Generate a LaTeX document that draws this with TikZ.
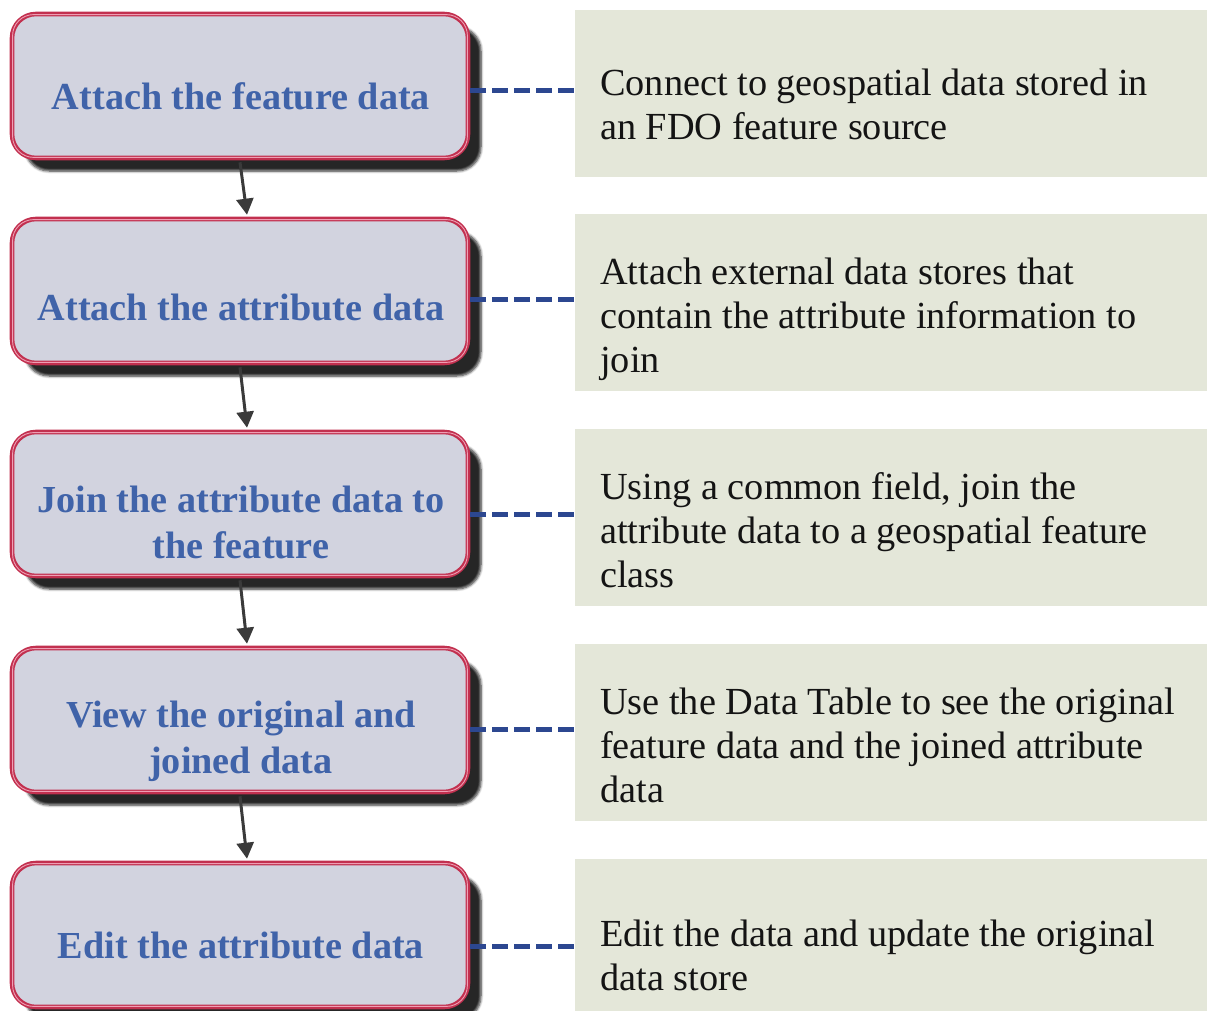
\documentclass[tikz,border=0pt]{standalone}
\usepackage{fontspec}
\setmainfont{Liberation Serif}
\usetikzlibrary{arrows.meta,shadows.blur}

\definecolor{boxfill}{HTML}{D2D3DF}
\definecolor{boxedge}{HTML}{C2304F}
\definecolor{boxhigh}{HTML}{EE9FB4}
\definecolor{stepblue}{HTML}{4063A9}
\definecolor{notefill}{HTML}{E4E7D9}
\definecolor{dashblue}{HTML}{2C4790}
\definecolor{arrowgray}{HTML}{3A3A3A}

\tikzset{
  stepbox/.style={
    rounded corners=24pt, fill=boxfill, draw=boxedge, line width=4.6pt,
    minimum width=456pt, minimum height=144pt, inner sep=0pt,
    blur shadow={shadow xshift=13pt, shadow yshift=-13pt,
      shadow blur radius=2.5pt, shadow blur steps=6, shadow opacity=85}
  },
  steptext/.style={
    text=stepblue, align=center, inner sep=0pt, anchor=base,
    font=\bfseries\fontsize{38.2}{46}\selectfont
  },
  notebox/.style={fill=notefill, minimum width=632pt, inner sep=0pt},
  notetext/.style={
    text=black!92, align=left, inner sep=0pt, anchor=base west,
    font=\fontsize{38.3}{44}\selectfont
  },
  linkline/.style={draw=dashblue, line width=4.5pt, dash pattern=on 16pt off 6pt},
  flowarrow/.style={draw=arrowgray, line width=3pt,
    -{Triangle[width=17pt,length=16pt]}},
  highline/.style={draw=boxhigh, line width=0.9pt, rounded corners=21pt}
}

\begin{document}
\begin{tikzpicture}[x=1pt, y=-1pt]
\useasboundingbox (0,0) rectangle (1207,1010);

% note panels on the right
\node[notebox, minimum height=167pt] (r1) at (891,93.5) {};
\node[notebox, minimum height=177pt] (r2) at (891,302.5) {};
\node[notebox, minimum height=177pt] (r3) at (891,517.5) {};
\node[notebox, minimum height=177pt] (r4) at (891,732.5) {};
\node[notebox, minimum height=181pt] (r5) at (891,949.5) {};

% workflow steps
\foreach \i/\y in {1/86, 2/291, 3/504, 4/720, 5/935} {
  \node[stepbox] (b\i) at (240,\y) {};
  \draw[highline] ([shift={(2.9,2.9)}]b\i.north west) rectangle ([shift={(-2.9,-2.9)}]b\i.south east);
}

% step labels (anchored at the baseline of their last line)
\node[steptext] (t1) at (241,109) {Attach the feature data};
\node[steptext] (t2) at (241,320) {Attach the attribute data};
\node[steptext] (t3) at (241,558) {Join the attribute data to\\the feature};
\node[steptext] (t4) at (241,773) {View the original and\\joined data};
\node[steptext] (t5) at (241,958) {Edit the attribute data};

% descriptions (anchored at the baseline of their last line)
\node[notetext] (n1) at (600,139) {Connect to geospatial data stored in\\an FDO feature source};
\node[notetext] (n2) at (600,372) {Attach external data stores that\\contain the attribute information to\\join};
\node[notetext] (n3) at (600,587) {Using a common field, join the\\attribute data to a geospatial feature\\class};
\node[notetext] (n4) at (600,802) {Use the Data Table to see the original\\feature data and the joined attribute\\data};
\node[notetext] (n5) at (600,990) {Edit the data and update the original\\data store};

% dashed links from each step to its description
\foreach \i in {1,...,5} {
  \draw[linkline] ([yshift=3pt]r\i.west -| b\i.east) -- ([yshift=3pt]r\i.west);
}

% flow arrows between steps
\foreach \i/\j in {1/2, 2/3, 3/4, 4/5} {
  \draw[flowarrow] ([yshift=-2pt]b\i.south) -- ([xshift=7pt,yshift=2pt]b\j.north);
}
\end{tikzpicture}
\end{document}
